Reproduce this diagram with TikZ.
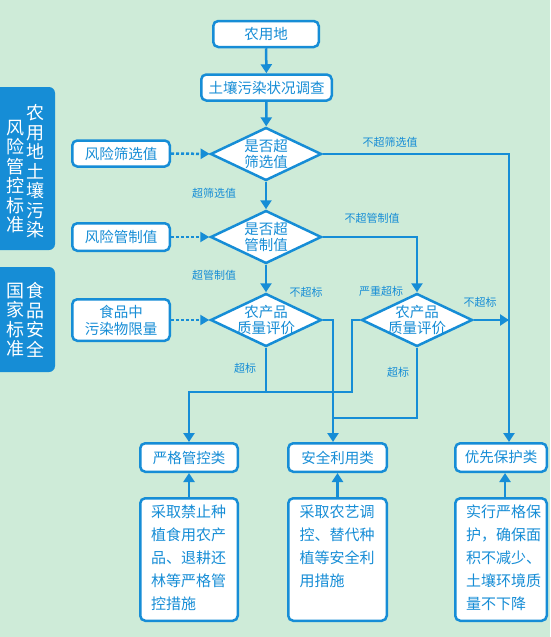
\documentclass[tikz,border=0pt]{standalone}
\usepackage{fontspec}
\setmainfont{Noto Sans CJK SC}
\usetikzlibrary{calc,arrows.meta,shapes.geometric}
\definecolor{bg}{RGB}{206,235,216}
\definecolor{fblue}{RGB}{22,141,214}
\tikzset{
	box/.style={draw=fblue, fill=white, line width=2.5pt, rounded corners=5pt, text=fblue, font=\fontsize{14.5}{17}\selectfont, inner sep=0pt, align=center, minimum height=26pt},
	descbox/.style={draw=fblue, fill=white, line width=2.5pt, rounded corners=5pt, text=fblue, font=\fontsize{15}{23}\selectfont, inner sep=0pt, minimum height=122.5pt},
	chk/.style={diamond, aspect=2.1, draw=fblue, fill=white, line width=2.5pt, text=fblue, font=\fontsize{14.5}{16}\selectfont, inner sep=-5pt, align=center, minimum width=111pt, minimum height=53pt},
	side/.style={text=white, font=\fontsize{18}{19.5}\selectfont, inner sep=0pt, align=center},
	lab/.style={text=fblue, font=\fontsize{11}{12}\selectfont, inner sep=0pt},
	link/.style={draw=fblue, line width=2.5pt, -{Triangle[length=9pt,width=11pt]}},
	plain/.style={draw=fblue, line width=2.5pt},
	dotlink/.style={draw=fblue, line width=2.5pt, dash pattern=on 3pt off 2pt, -{Triangle[length=9pt,width=10pt]}}
}
\begin{document}
\begin{tikzpicture}[x=1pt,y=-1pt]
		%%%%% START %%%%%
		
		\fill[bg] (0,0) rectangle (550,637);
		\useasboundingbox (0,0) rectangle (550,637);
		
		%%%%% side panels %%%%%
		\fill[fblue, rounded corners=6pt] (-10,87) rectangle (55,250);
		\fill[fblue, rounded corners=6pt] (-10,267) rectangle (55,372);
		\node[side] (sideA) at (35,171.5) {农\\用\\地\\土\\壤\\污\\染};
		\node[side] (sideB) at (15,176.5) {风\\险\\管\\控\\标\\准};
		\node[side] (sideC) at (35,320) {食\\品\\安\\全};
		\node[side] (sideD) at (15,320) {国\\家\\标\\准};
		
		%%%%% main column %%%%%
		\node[box, minimum width=105.5pt] (land) at (266,34) {农用地};
		\node[box, minimum width=130.5pt] (survey) at (266.5,87.5) {土壤污染状况调查};
		\node[chk] (dscreen) at (266,154) {是否超\\筛选值};
		\node[chk] (dcontrol) at (266,237) {是否超\\管制值};
		\node[chk] (dqualA) at (266,320) {农产品\\质量评价};
		\node[chk] (dqualB) at (417,320) {农产品\\质量评价};
		
		%%%%% standards %%%%%
		\node[box, minimum width=97.5pt] (screen) at (121,153.5) {风险筛选值};
		\node[box, minimum width=97.5pt, minimum height=27.5pt] (control) at (121,237) {风险管制值};
		\node[box, minimum width=97.5pt, minimum height=41.5pt] (limit) at (121,320) {食品中\\污染物限量};
		
		%%%%% classes %%%%%
		\node[box, minimum width=97.5pt, minimum height=28.5pt] (strict) at (189,457.5) {严格管控类};
		\node[box, minimum width=98.5pt, minimum height=28.5pt] (safe) at (337.5,457.5) {安全利用类};
		\node[box, minimum width=91.5pt, minimum height=28.5pt] (prior) at (501,457.5) {优先保护类};
		
		\node[descbox, minimum width=97.5pt] (strictdo) at (189,559.5) {\parbox[c][109pt][t]{76pt}{采取禁止种\\植食用农产\\品、退耕还\\林等严格管\\控措施}};
		\node[descbox, minimum width=98.5pt] (safedo) at (337.5,559.5) {\parbox[c][109pt][t]{76pt}{采取农艺调\\控、替代种\\植等安全利\\用措施}};
		\node[descbox, minimum width=91.5pt] (priordo) at (501,559.5) {\hspace*{6pt}\parbox[c][109pt][t]{76pt}{实行严格保\\护，确保面\\积不减少、\\土壤环境质\\量不下降}};
		
		%%%%% bus points %%%%%
		\coordinate (rightbus) at (509,154);
		\coordinate (midbus) at (333,320);
		\coordinate (leftbus) at (352,320);
		\coordinate (lowbus) at (266,392);
		
		%%%%% connectors %%%%%
		\draw[link] (land) -- (survey);
		\draw[link] (survey) -- (dscreen);
		\draw[link] (dscreen) -- (dcontrol);
		\draw[link] (dcontrol) -- (dqualA);
		
		\draw[dotlink] (screen) -- (dscreen);
		\draw[dotlink] (control) -- (dcontrol);
		\draw[dotlink] (limit) -- (dqualA);
		
		\draw[link] (dscreen.east) -- (rightbus) -- (rightbus |- prior.north);
		\draw[link] (dcontrol.east) -| (dqualB.north);
		\draw[link] (dqualB.east) -- (rightbus |- dqualB.east);
		\draw[link] (dqualA.east) -- (midbus) -- (midbus |- safe.north);
		\draw[plain] (dqualA.south) -- (lowbus);
		\draw[link] (dqualB.west) -- (leftbus) -- (leftbus |- lowbus) -- (strict.north |- lowbus) -- (strict.north);
		\draw[plain] (dqualB.south) -- ($(dqualB.south |- lowbus)+(0,26)$) -- ($(midbus |- lowbus)+(0,26)$);
		
		\draw[link] (strictdo) -- (strict);
		\draw[link] (safedo) -- (safe);
		\draw[link] ($(priordo.north)+(4,0)$) -- ($(prior.south)+(4,0)$);
		
		%%%%% labels %%%%%
		\node[lab] (tA) at (214,193) {超筛选值};
		\node[lab] (tB) at (214,275) {超管制值};
		\node[lab] (tC) at (390,142) {不超筛选值};
		\node[lab] (tD) at (372,218) {不超管制值};
		\node[lab] (tE) at (306,292) {不超标};
		\node[lab] (tF) at (381,291) {严重超标};
		\node[lab] (tG) at (480,302) {不超标};
		\node[lab] (tH) at (245,368) {超标};
		\node[lab] (tI) at (398,372) {超标};
		
		%%%%% END %%%%%
	\end{tikzpicture}
\end{document}
